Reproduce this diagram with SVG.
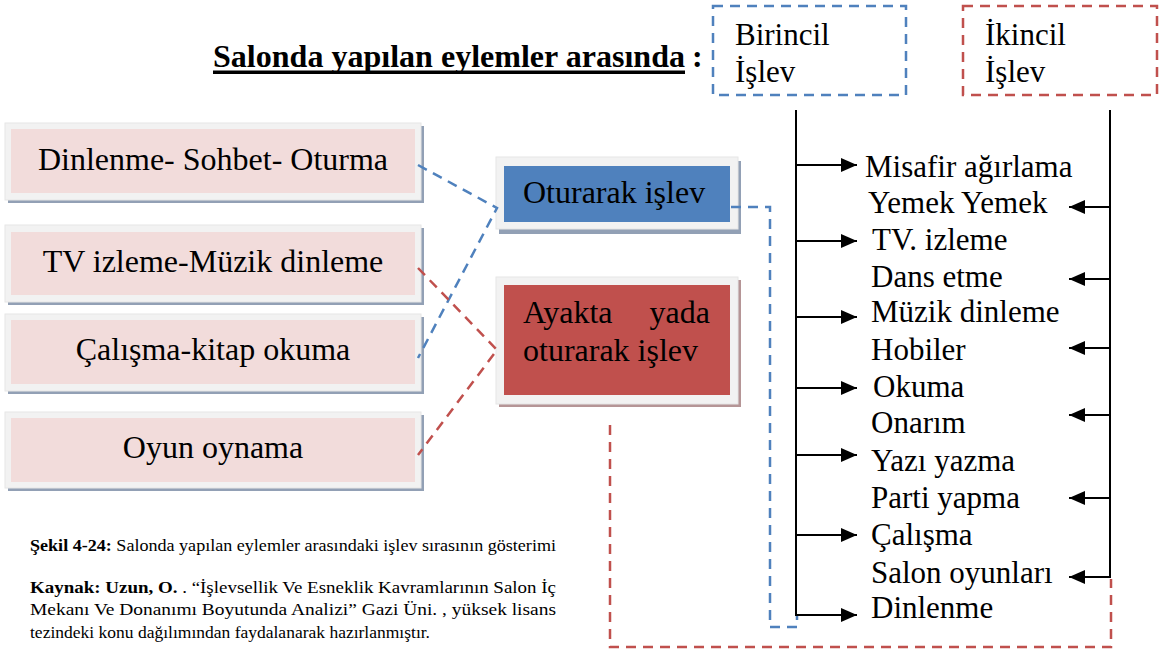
<svg xmlns="http://www.w3.org/2000/svg" width="1166" height="654" viewBox="0 0 1166 654">
<style>
.t{font-family:"Liberation Serif","Times New Roman",serif;fill:#000}
.lt{font-size:32px}
.rt{font-size:31px}
.outer{fill:#F2F2F2;stroke:#E6E6E6;stroke-width:1}
.shb{fill:#92A0B5}
.shr{fill:#B59596}
.pink{fill:#F2DCDB}
.blue{fill:#4F81BD}
.red{fill:#C0504D}
.db{fill:none;stroke:#4F81BD;stroke-width:2.5;stroke-dasharray:10 7}
.dr{fill:none;stroke:#C0504D;stroke-width:2.5;stroke-dasharray:10 7}
.bl{fill:none;stroke:#000;stroke-width:2}
.cap{font-family:"Liberation Serif","Times New Roman",serif;font-size:17px;fill:#000}
</style>
<defs>
<marker id="ah" markerUnits="userSpaceOnUse" markerWidth="16" markerHeight="14" refX="16" refY="7" orient="auto">
<path d="M0,0 L16,7 L0,14 z" fill="#000"/>
</marker>
</defs>
<rect width="1166" height="654" fill="#fff"/>

<g id="title">
<text class="t" x="213" y="67" font-size="32" font-weight="bold" textLength="472" lengthAdjust="spacingAndGlyphs">Salonda yapılan eylemler arasında</text>
<rect x="213" y="70.5" width="472" height="3.5" fill="#000"/>
<text class="t" x="692" y="67" font-size="32" font-weight="bold">:</text>
</g>

<g id="birincil">
<rect x="713" y="6" width="193" height="89" class="db"/>
<text class="t rt" x="735" y="45">Birincil</text>
<text class="t rt" x="735" y="82">İşlev</text>
</g>
<g id="ikincil">
<rect x="963" y="6" width="194" height="89" class="dr"/>
<text class="t rt" x="985" y="45">İkincil</text>
<text class="t rt" x="985" y="82">İşlev</text>
</g>

<g id="node-dinlenme">
<rect x="8" y="126" width="416" height="77" class="shb"/>
<rect x="5" y="123" width="416" height="77" class="outer"/>
<rect x="11" y="129" width="404" height="64" class="pink"/>
<text class="t lt" x="213" y="170" text-anchor="middle">Dinlenme- Sohbet- Oturma</text>
</g>
<g id="node-tv">
<rect x="8" y="228" width="416" height="77" class="shb"/>
<rect x="5" y="225" width="416" height="77" class="outer"/>
<rect x="11" y="232" width="404" height="63" class="pink"/>
<text class="t lt" x="213" y="272" text-anchor="middle">TV izleme-Müzik dinleme</text>
</g>
<g id="node-calisma">
<rect x="8" y="317" width="416" height="77" class="shb"/>
<rect x="5" y="314" width="416" height="77" class="outer"/>
<rect x="11" y="320" width="404" height="64" class="pink"/>
<text class="t lt" x="213" y="360" text-anchor="middle">Çalışma-kitap okuma</text>
</g>
<g id="node-oyun">
<rect x="8" y="415" width="416" height="76" class="shb"/>
<rect x="5" y="412" width="416" height="76" class="outer"/>
<rect x="11" y="418" width="404" height="64" class="pink"/>
<text class="t lt" x="213" y="458" text-anchor="middle">Oyun oynama</text>
</g>

<g id="node-oturarak">
<rect x="499" y="161" width="242" height="73" class="shb"/>
<rect x="496" y="157" width="242" height="72" class="outer"/>
<rect x="504" y="166" width="226" height="56" class="blue"/>
<text class="t lt" x="523" y="203">Oturarak işlev</text>
</g>
<g id="node-ayakta">
<rect x="499" y="280" width="242" height="127" class="shr"/>
<rect x="496" y="277" width="242" height="127" class="outer"/>
<rect x="504" y="285" width="226" height="110" class="red"/>
<text class="t lt" x="523" y="323">Ayakta</text>
<text class="t lt" x="710" y="323" text-anchor="end">yada</text>
<text class="t lt" x="523" y="361">oturarak işlev</text>
</g>

<g id="connectors">
<polyline class="db" points="418,165 497,208 418,358"/>
<polyline class="dr" points="418,268 497,350 418,455"/>
<polyline class="db" points="731,207 770,207 770,627 797,627 797,616"/>
<polyline class="dr" points="610,425 610,647 1111,647 1111,579"/>
<line class="bl" x1="796" y1="110" x2="796" y2="616"/>
<line class="bl" x1="1110" y1="110" x2="1110" y2="578"/>
<line class="bl" x1="796" y1="165" x2="857" y2="165" marker-end="url(#ah)"/>
<line class="bl" x1="796" y1="241" x2="857" y2="241" marker-end="url(#ah)"/>
<line class="bl" x1="796" y1="317" x2="857" y2="317" marker-end="url(#ah)"/>
<line class="bl" x1="796" y1="388" x2="857" y2="388" marker-end="url(#ah)"/>
<line class="bl" x1="796" y1="455" x2="857" y2="455" marker-end="url(#ah)"/>
<line class="bl" x1="796" y1="535" x2="857" y2="535" marker-end="url(#ah)"/>
<line class="bl" x1="796" y1="615" x2="857" y2="615" marker-end="url(#ah)"/>
<line class="bl" x1="1110" y1="207" x2="1069" y2="207" marker-end="url(#ah)"/>
<line class="bl" x1="1110" y1="279" x2="1069" y2="279" marker-end="url(#ah)"/>
<line class="bl" x1="1110" y1="348" x2="1069" y2="348" marker-end="url(#ah)"/>
<line class="bl" x1="1110" y1="415" x2="1069" y2="415" marker-end="url(#ah)"/>
<line class="bl" x1="1110" y1="498" x2="1069" y2="498" marker-end="url(#ah)"/>
<line class="bl" x1="1110" y1="577" x2="1069" y2="577" marker-end="url(#ah)"/>
</g>

<g id="activities">
<text class="t rt" x="865" y="177">Misafir ağırlama</text>
<text class="t rt" x="868" y="213">Yemek Yemek</text>
<text class="t rt" x="872" y="250">TV. izleme</text>
<text class="t rt" x="871" y="287">Dans etme</text>
<text class="t rt" x="871" y="322">Müzik dinleme</text>
<text class="t rt" x="871" y="360">Hobiler</text>
<text class="t rt" x="873" y="397">Okuma</text>
<text class="t rt" x="871" y="433">Onarım</text>
<text class="t rt" x="871" y="471">Yazı yazma</text>
<text class="t rt" x="871" y="508">Parti yapma</text>
<text class="t rt" x="871" y="545">Çalışma</text>
<text class="t rt" x="871" y="583">Salon oyunları</text>
<text class="t rt" x="871" y="618">Dinlenme</text>
</g>

<g id="caption">
<text class="cap" x="30" y="551" textLength="526" lengthAdjust="spacingAndGlyphs"><tspan font-weight="bold">Şekil 4-24:</tspan> Salonda yapılan eylemler arasındaki işlev sırasının gösterimi</text>
<text class="cap" x="30" y="593" textLength="526" lengthAdjust="spacingAndGlyphs"><tspan font-weight="bold">Kaynak:  Uzun, O.</tspan> . “İşlevsellik Ve Esneklik Kavramlarının Salon İç</text>
<text class="cap" x="30" y="615" textLength="526" lengthAdjust="spacingAndGlyphs">Mekanı Ve Donanımı Boyutunda Analizi”  Gazi Üni. , yüksek lisans</text>
<text class="cap" x="30" y="638" textLength="400" lengthAdjust="spacingAndGlyphs">tezindeki konu dağılımından faydalanarak hazırlanmıştır.</text>
</g>
</svg>
